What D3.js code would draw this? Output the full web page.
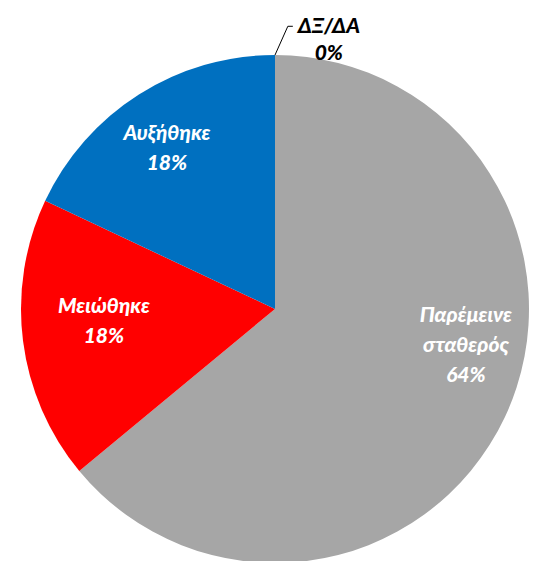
<!DOCTYPE html>
<html>
<head>
<meta charset="utf-8">
<script src="https://cdn.jsdelivr.net/npm/d3@7"></script>
<style>
  html, body { margin: 0; padding: 0; background: #ffffff; }
  svg { display: block; }
  .lbl { font-family: Lato, "Noto Sans", sans-serif; font-weight: 900; font-style: italic; font-size: 21px; }
</style>
</head>
<body>
<svg id="chart" width="533" height="561"></svg>
<script>
// Survey answers, in drawing order (clockwise from 12 o'clock)
const categories = ["Παρέμεινε σταθερός", "Μειώθηκε", "Αυξήθηκε", "ΔΞ/ΔΑ"];
const labelLines = [["Παρέμεινε", "σταθερός"], ["Μειώθηκε"], ["Αυξήθηκε"], ["ΔΞ/ΔΑ"]];
const shares = [64, 18, 18, 0];
const percentLabels = ["64%", "18%", "18%", "0%"];

// Appearance
const colors = ["#A6A6A6", "#FF0000", "#0070C0", "#7F7F7F"];
const textColors = ["#ffffff", "#ffffff", "#ffffff", "#000000"];
// Label anchor for each slice: polar position (degrees clockwise from top, radius as share of pie radius)
const labelPolar = [
  { angle: 100.7, radius: 0.765 },
  { angle: 266.2, radius: 0.675 },
  { angle: 326.2, radius: 0.765 },
  null
];

const width = 533, height = 561;
const cx = 275, cy = 309, R = 254;
const lineGap = 30;

const svg = d3.select("#chart");
const g = svg.append("g").attr("transform", `translate(${cx},${cy})`);

const data = categories.map((c, i) => ({ name: c, value: shares[i], i }));

const pie = d3.pie().sort(null).value(d => d.value);
const arcs = pie(data);
const arc = d3.arc().innerRadius(0).outerRadius(R);

g.selectAll("path.slice")
  .data(arcs.filter(a => a.data.value > 0))
  .join("path")
  .attr("class", "slice")
  .attr("d", arc)
  .attr("fill", d => colors[d.data.i]);

const rad = Math.PI / 180;
function polar(angleDeg, r) {
  return d3.arc().innerRadius(r).outerRadius(r)
    .startAngle(angleDeg * rad).endAngle(angleDeg * rad).centroid();
}

// Labels inside the slices
arcs.forEach(a => {
  const p = labelPolar[a.data.i];
  if (!p) return;
  const [x, y] = polar(p.angle, p.radius * R);
  const lines = labelLines[a.data.i].concat([percentLabels[a.data.i]]);
  const n = lines.length;
  const t = g.append("text")
    .attr("class", "lbl")
    .attr("text-anchor", "middle")
    .attr("fill", textColors[a.data.i]);
  lines.forEach((ln, k) => {
    t.append("tspan")
      .attr("x", x)
      .attr("y", y + (k - (n - 1) / 2) * lineGap)
      .attr("dy", "0.35em")
      .text(ln);
  });
});

// Zero-share slice: label outside with a leader line
const zero = arcs.find(a => a.data.value === 0);
if (zero) {
  const i = zero.data.i;
  const a0 = zero.startAngle / rad;
  const start = polar(a0, R);
  const elbow = polar(a0 + 2.6, R + 29);
  const end = [elbow[0] + 5, elbow[1]];
  g.append("path")
    .attr("d", d3.line()([start, elbow, end]))
    .attr("fill", "none")
    .attr("stroke", "#000")
    .attr("stroke-width", 1);
  const lines = labelLines[i].concat([percentLabels[i]]);
  const t = g.append("text")
    .attr("class", "lbl")
    .attr("text-anchor", "middle")
    .attr("fill", textColors[i]);
  lines.forEach((ln, k) => {
    t.append("tspan")
      .attr("x", end[0] + 36)
      .attr("y", end[1] + (k - 0.5) * 27 + 13)
      .attr("dy", "0.35em")
      .text(ln);
  });
}
</script>
</body>
</html>
